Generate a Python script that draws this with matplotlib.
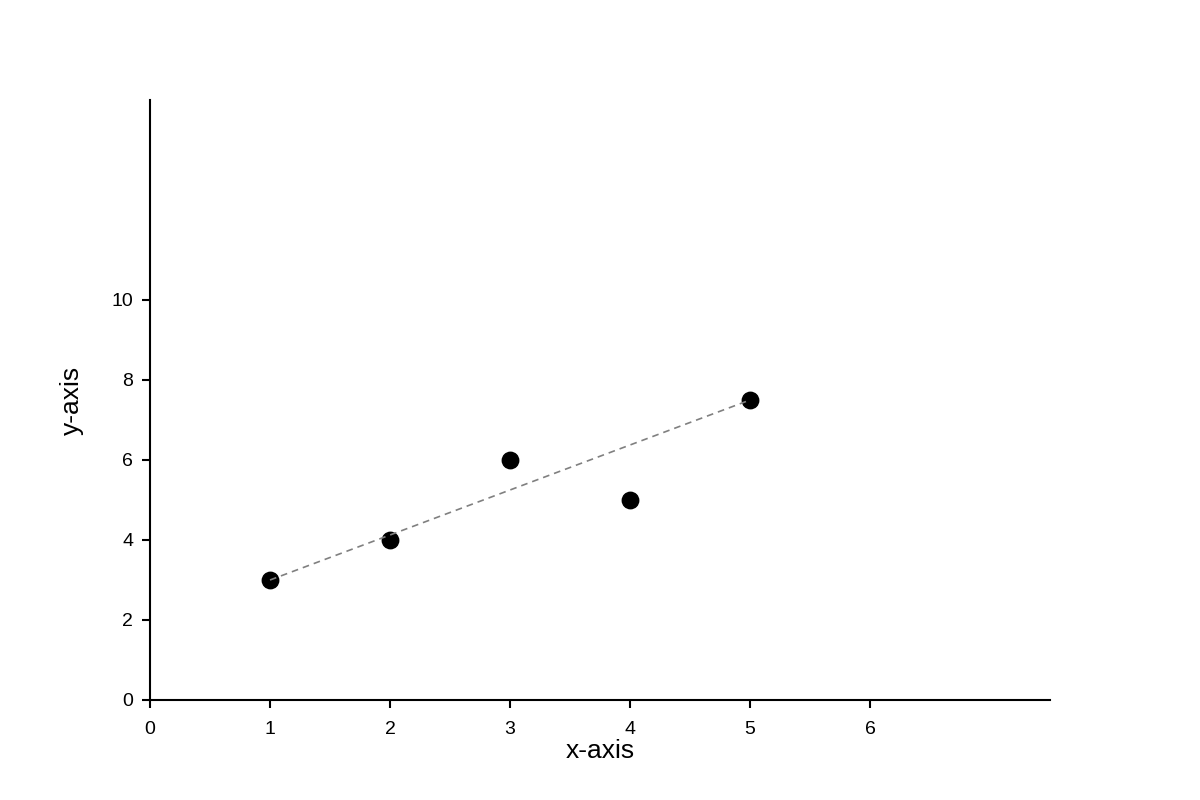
import matplotlib
matplotlib.use('Agg')
import matplotlib.pyplot as plt
import numpy as np

plt.rcParams['font.family'] = ['Liberation Sans', 'DejaVu Sans']

x = [1, 2, 3, 4, 5]
y = [3, 4, 6, 5, 7.5]
xticks = [0, 1, 2, 3, 4, 5, 6]
yticks = [0, 2, 4, 6, 8, 10]

fig = plt.figure(figsize=(12, 8), dpi=100)
ax = fig.add_axes([0.125, 0.125, 0.75, 0.75])

ax.scatter(x, y, s=140, c='black', zorder=2)
ax.plot([x[0], x[-1]], [y[0], y[-1]], linestyle=(0, (4, 3)), c='gray', lw=1.2, zorder=3)

ax.set_xlim(0, 7.5)
ax.set_ylim(0, 15)
ax.set_xticks(xticks)
ax.set_yticks(yticks)
ax.spines['top'].set_visible(False)
ax.spines['right'].set_visible(False)
ax.spines['left'].set_linewidth(1.5)
ax.spines['bottom'].set_linewidth(1.5)
ax.tick_params(length=6, width=1.5, labelsize=14)
ax.tick_params(axis='x', pad=9)
ax.tick_params(axis='y', pad=6)
ax.set_xlabel('x-axis', fontsize=19, labelpad=1)
ax.set_ylabel('y-axis', fontsize=19, labelpad=20)

plt.savefig('out.png')
